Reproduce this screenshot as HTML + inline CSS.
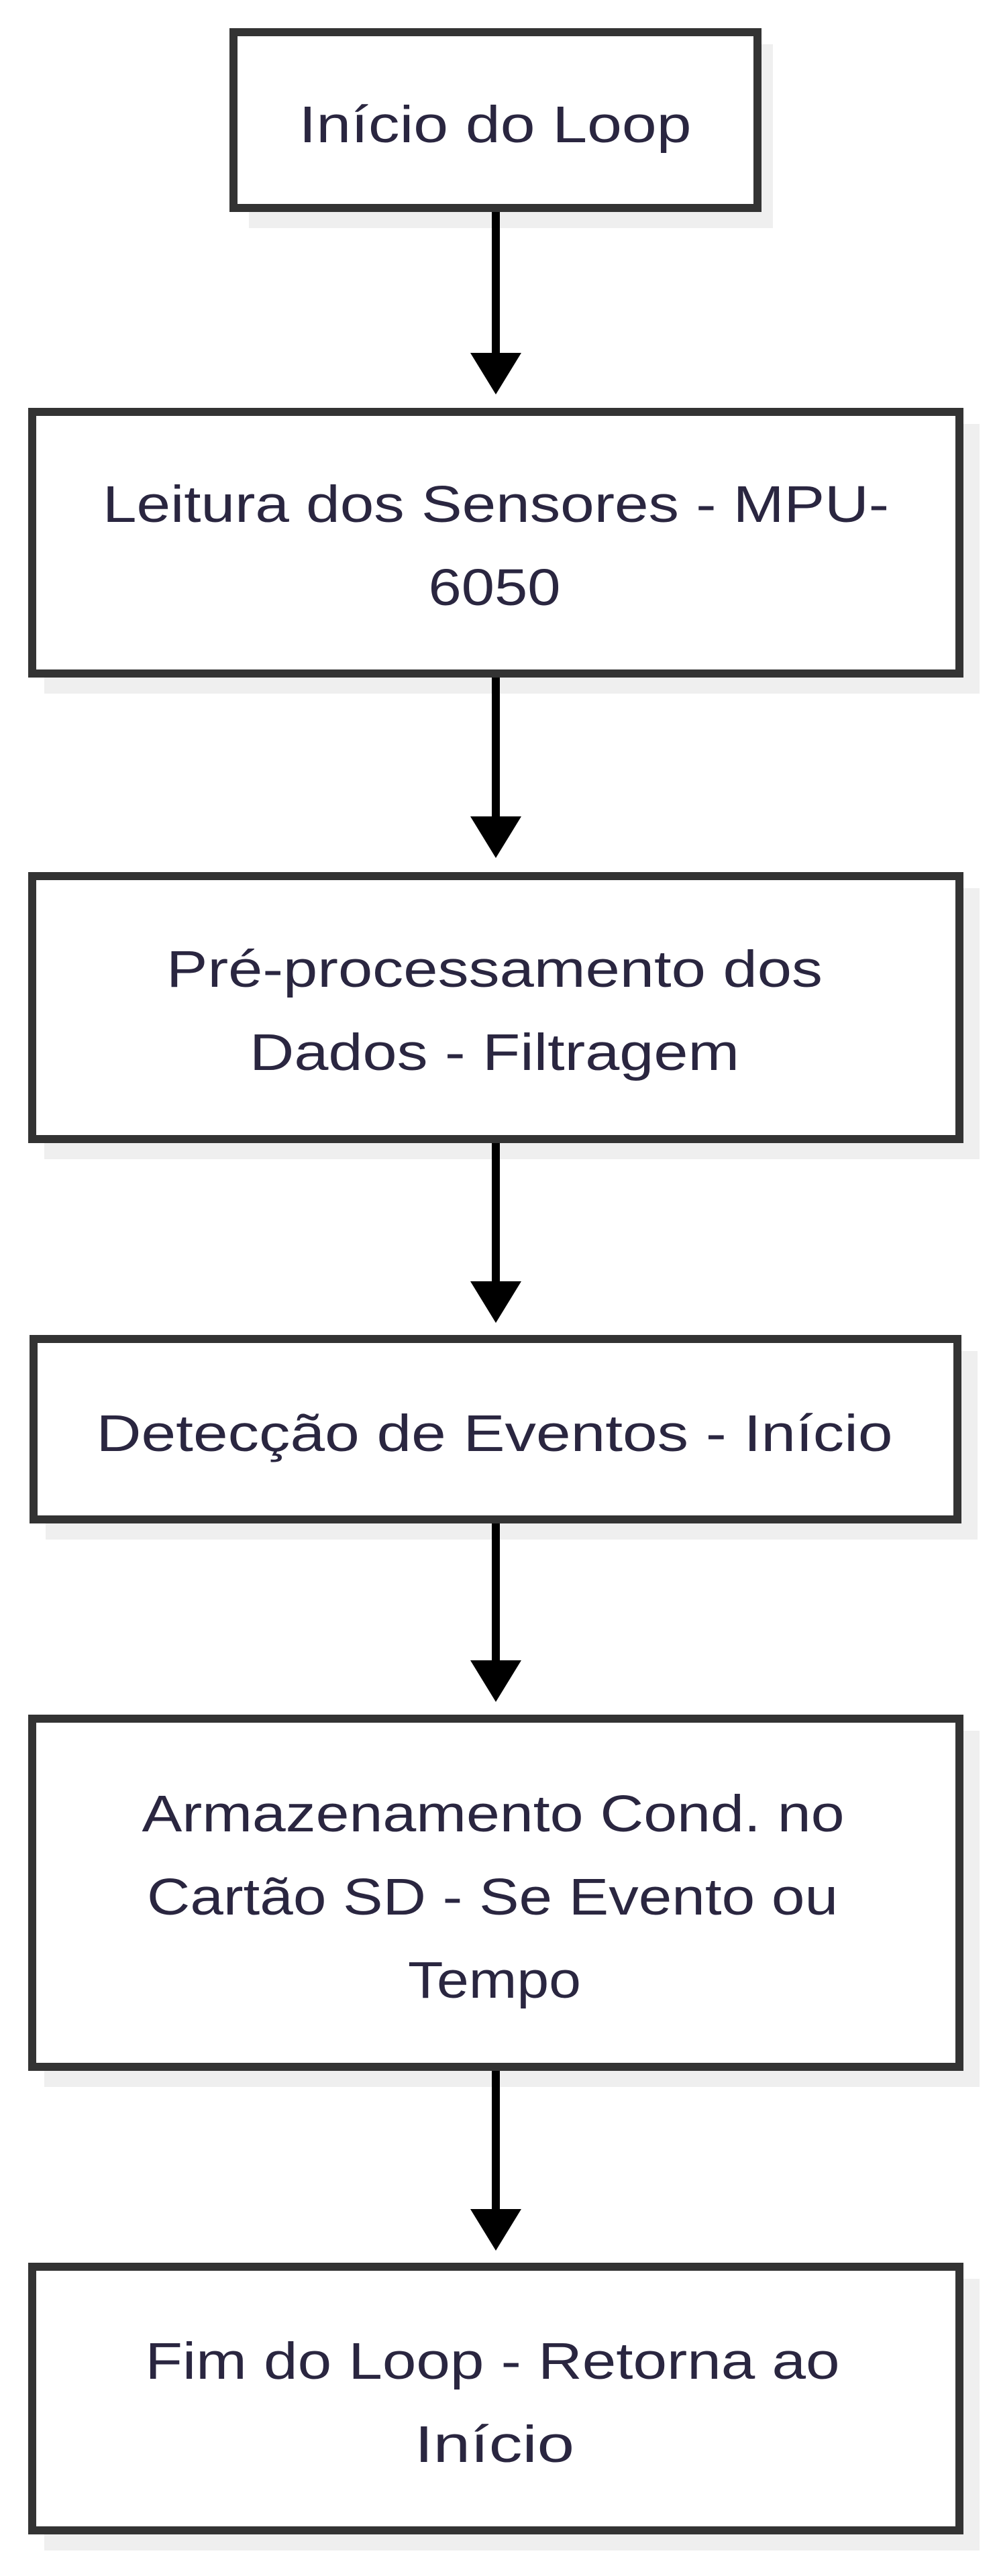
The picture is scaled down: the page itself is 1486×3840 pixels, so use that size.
<!DOCTYPE html>
<html><head><meta charset="utf-8"><style>
html,body{margin:0;padding:0;background:#fff;}
svg{display:block;}
text{font-family:"Liberation Sans",sans-serif;font-size:77px;fill:#2a2640;}
</style></head><body>
<svg width="1486" height="3840" viewBox="0 0 1486 3840" xmlns="http://www.w3.org/2000/svg">
<g fill="#efefef">
<rect x="371" y="66" width="781" height="274"/>
<rect x="66" y="632" width="1394" height="402"/>
<rect x="66" y="1324" width="1394" height="404"/>
<rect x="68" y="2014" width="1389" height="281"/>
<rect x="66" y="2580" width="1394" height="531"/>
<rect x="66" y="3397" width="1394" height="405"/>
</g>
<g fill="#fff" stroke="#333" stroke-width="12">
<rect x="348" y="48" width="781" height="262"/>
<rect x="48" y="614" width="1382" height="390"/>
<rect x="48" y="1306" width="1382" height="392"/>
<rect x="50" y="1996" width="1377" height="269"/>
<rect x="48" y="2562" width="1382" height="519"/>
<rect x="48" y="3379" width="1382" height="393"/>
</g>
<g fill="#000">
<rect x="733" y="316" width="12" height="214"/><polygon points="701,526 777,526 739,588"/>
<rect x="733" y="1010" width="12" height="210"/><polygon points="701,1217 777,1217 739,1279"/>
<rect x="733" y="1704" width="12" height="208"/><polygon points="701,1910 777,1910 739,1972"/>
<rect x="733" y="2271" width="12" height="206"/><polygon points="701,2475 777,2475 739,2537"/>
<rect x="733" y="3087" width="12" height="208"/><polygon points="701,3293 777,3293 739,3355"/>
</g>
<g text-anchor="middle">
<text x="738" y="212" textLength="585" lengthAdjust="spacingAndGlyphs">Início do Loop</text>
<text x="739" y="778" textLength="1172" lengthAdjust="spacingAndGlyphs">Leitura dos Sensores - MPU-</text>
<text x="737" y="902" textLength="197" lengthAdjust="spacingAndGlyphs">6050</text>
<text x="737" y="1471" textLength="978" lengthAdjust="spacingAndGlyphs">Pré-processamento dos</text>
<text x="737" y="1595" textLength="730" lengthAdjust="spacingAndGlyphs">Dados - Filtragem</text>
<text x="737" y="2163" textLength="1187" lengthAdjust="spacingAndGlyphs">Detecção de Eventos - Início</text>
<text x="735" y="2730" textLength="1047" lengthAdjust="spacingAndGlyphs">Armazenamento Cond. no</text>
<text x="734" y="2854" textLength="1030" lengthAdjust="spacingAndGlyphs">Cartão SD - Se Evento ou</text>
<text x="737" y="2978" textLength="258" lengthAdjust="spacingAndGlyphs">Tempo</text>
<text x="734" y="3546" textLength="1035" lengthAdjust="spacingAndGlyphs">Fim do Loop - Retorna ao</text>
<text x="737" y="3670" textLength="238" lengthAdjust="spacingAndGlyphs">Início</text>
</g>
</svg>
</body></html>
